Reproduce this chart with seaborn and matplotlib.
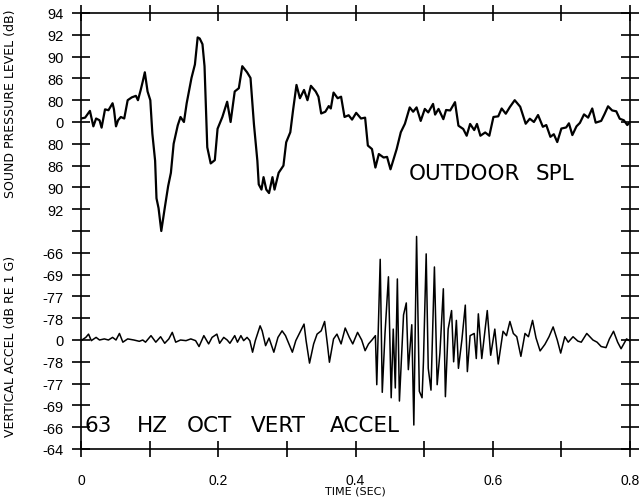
import numpy as np
import pandas as pd
import matplotlib
matplotlib.use("Agg")
import matplotlib.pyplot as plt
import seaborn as sns

# ---- data (levels in scale divisions; 0 = centre line of each trace) ----
spl_time = [0.000, 0.006, 0.013, 0.018, 0.022, 0.027, 0.030, 0.035, 0.040, 0.046,
            0.048, 0.051, 0.054, 0.058, 0.063, 0.068, 0.074, 0.080, 0.083, 0.087,
            0.090, 0.093, 0.097, 0.101, 0.104, 0.108, 0.110, 0.113, 0.117, 0.122,
            0.127, 0.131, 0.135, 0.141, 0.145, 0.150, 0.154, 0.161, 0.166, 0.170,
            0.173, 0.177, 0.180, 0.184, 0.189, 0.195, 0.199, 0.206, 0.213, 0.218,
            0.224, 0.230, 0.235, 0.242, 0.247, 0.252, 0.257, 0.259, 0.263, 0.266,
            0.270, 0.274, 0.279, 0.282, 0.288, 0.295, 0.299, 0.305, 0.309, 0.314,
            0.319, 0.325, 0.330, 0.335, 0.342, 0.346, 0.350, 0.356, 0.361, 0.364,
            0.368, 0.374, 0.379, 0.384, 0.390, 0.395, 0.401, 0.408, 0.414, 0.418,
            0.424, 0.429, 0.434, 0.441, 0.446, 0.451, 0.460, 0.466, 0.472, 0.479,
            0.484, 0.489, 0.495, 0.501, 0.506, 0.513, 0.516, 0.521, 0.528, 0.532,
            0.538, 0.545, 0.550, 0.557, 0.562, 0.567, 0.573, 0.577, 0.582, 0.589,
            0.595, 0.601, 0.608, 0.613, 0.619, 0.625, 0.632, 0.640, 0.648, 0.654,
            0.660, 0.666, 0.673, 0.678, 0.684, 0.689, 0.694, 0.700, 0.707, 0.711,
            0.716, 0.722, 0.727, 0.733, 0.739, 0.745, 0.750, 0.758, 0.763, 0.768,
            0.774, 0.780, 0.785, 0.791, 0.796, 0.800]
spl_level = [0.16, 0.20, 0.51, -0.20, 0.16, 0.08, -0.26, 0.58, 0.54, 0.86,
             0.58, -0.20, 0.08, 0.23, 0.16, 1.00, 1.13, 1.20, 1.00, 1.47,
             1.86, 2.28, 1.40, 1.00, -0.54, -1.78, -3.50, -3.95, -5.00, -3.95,
             -2.94, -2.33, -1.00, -0.15, 0.23, 0.00, 0.86, 2.02, 2.64, 3.88,
             3.83, 3.57, 2.56, -1.16, -1.90, -1.75, -0.31, 0.23, 0.93, 0.00,
             1.40, 1.55, 2.56, 2.28, 2.02, -0.10, -1.78, -2.86, -3.10, -2.53,
             -3.10, -3.26, -2.53, -3.10, -2.33, -2.00, -0.93, -0.47, 0.54, 1.70,
             1.09, 1.47, 1.00, 1.66, 1.40, 1.16, 0.39, 0.47, 0.73, 0.62,
             1.35, 1.09, 1.16, 0.23, 0.31, 0.11, 0.42, 0.16, 0.20, -1.08,
             -1.24, -2.09, -1.47, -1.63, -1.60, -2.17, -1.24, -0.47, -0.08, 0.67,
             0.47, 0.67, 0.05, 0.60, 0.44, 0.83, 0.34, 0.60, 0.13, 0.55,
             0.53, 0.91, -0.17, -0.32, -0.63, -0.09, -0.37, -0.09, -0.63, -0.48,
             -0.63, 0.23, 0.26, 0.62, 0.38, 0.69, 1.00, 0.70, -0.08, 0.15,
             0.00, 0.32, -0.22, -0.14, -0.68, -0.56, -0.92, -0.30, -0.25, -0.06,
             -0.60, -0.20, -0.04, 0.35, 0.20, 0.62, -0.03, 0.05, 0.37, 0.72,
             0.53, 0.49, 0.15, 0.08, -0.14, 0.00]

acc_time = [0.000, 0.007, 0.011, 0.015, 0.022, 0.027, 0.034, 0.040, 0.046, 0.051,
            0.056, 0.061, 0.068, 0.077, 0.085, 0.090, 0.094, 0.102, 0.109, 0.116,
            0.122, 0.128, 0.133, 0.138, 0.145, 0.153, 0.160, 0.167, 0.172, 0.179,
            0.186, 0.191, 0.198, 0.202, 0.208, 0.213, 0.217, 0.224, 0.228, 0.233,
            0.237, 0.242, 0.246, 0.250, 0.254, 0.261, 0.264, 0.269, 0.274, 0.281,
            0.287, 0.293, 0.298, 0.303, 0.308, 0.313, 0.320, 0.325, 0.328, 0.333,
            0.339, 0.344, 0.350, 0.355, 0.359, 0.362, 0.368, 0.373, 0.379, 0.385,
            0.391, 0.396, 0.403, 0.409, 0.414, 0.419, 0.424, 0.429, 0.431, 0.436,
            0.439, 0.443, 0.448, 0.452, 0.455, 0.458, 0.461, 0.464, 0.470, 0.474,
            0.477, 0.482, 0.485, 0.489, 0.493, 0.497, 0.499, 0.503, 0.506, 0.510,
            0.515, 0.519, 0.523, 0.528, 0.531, 0.535, 0.540, 0.543, 0.547, 0.550,
            0.555, 0.560, 0.563, 0.567, 0.573, 0.576, 0.579, 0.584, 0.592, 0.597,
            0.603, 0.608, 0.615, 0.620, 0.625, 0.630, 0.635, 0.641, 0.647, 0.652,
            0.658, 0.663, 0.669, 0.676, 0.682, 0.688, 0.694, 0.699, 0.705, 0.710,
            0.717, 0.724, 0.729, 0.737, 0.746, 0.752, 0.758, 0.765, 0.770, 0.776,
            0.782, 0.787, 0.795, 0.800]
acc_level = [-0.03, 0.12, 0.27, -0.03, 0.12, 0.00, 0.05, 0.00, 0.12, 0.00,
             0.30, -0.10, 0.05, 0.00, -0.06, 0.00, -0.10, 0.20, -0.10, 0.15,
             -0.15, 0.05, 0.35, -0.10, 0.00, -0.03, 0.05, -0.03, -0.30, 0.20,
             -0.18, 0.12, 0.27, -0.15, 0.12, 0.00, -0.15, 0.20, -0.10, 0.20,
             -0.03, 0.12, -0.03, -0.56, -0.03, 0.65, 0.42, -0.26, 0.09, -0.56,
             0.12, 0.42, 0.20, -0.18, -0.56, -0.03, 0.42, 0.73, -0.03, -1.06,
             -0.18, 0.27, 0.42, 0.85, -0.18, -1.02, 0.05, 0.27, -0.18, 0.55,
             0.12, -0.18, 0.35, 0.00, -0.49, -0.18, 0.00, 0.20, -2.05, 3.70,
             -2.40, 0.30, 2.90, -2.65, 0.50, -2.20, 2.80, -2.80, 1.15, 1.70,
             -1.36, 0.70, -3.90, 4.75, -2.35, -2.65, -1.00, 3.95, -1.30, -2.30,
             3.35, -2.05, -0.60, 2.35, -2.60, 0.50, 1.35, -1.00, 0.90, -1.30,
             0.00, 1.60, -1.45, 0.20, 0.30, -0.85, 1.20, -0.85, 1.35, -0.70,
             0.50, -1.10, 0.40, 0.20, 0.85, 0.30, 0.15, -0.75, 0.30, 0.15,
             0.90, 0.10, -0.50, -0.20, 0.15, 0.60, 0.00, -0.60, 0.15, -0.10,
             0.15, -0.05, -0.10, 0.30, 0.00, -0.10, -0.30, -0.35, 0.05, 0.40,
             -0.10, -0.40, 0.05, -0.05]

x_ticks = [0.0, 0.1, 0.2, 0.3, 0.4, 0.5, 0.6, 0.7, 0.8]
x_tick_labels = ["0", "", "0.2", "", "0.4", "", "0.6", "", "0.8"]
y_tick_labels = ["94", "92", "90", "86", "80", "0", "80", "86", "90", "92", "",
                 "-66", "-69", "-77", "-78", "0", "-78", "-77", "-69", "-66", "-64"]
spl_words = ["OUTDOOR", "SPL"]
acc_words = ["63", "HZ", "OCT", "VERT", "ACCEL"]

sns.set_style("ticks")
plt.rcParams['font.family'] = ['DejaVu Sans']

fig = plt.figure(figsize=(6.44, 5.02), dpi=100)
ax = fig.add_axes([81 / 644, 1 - 450 / 502, 549 / 644, 436 / 502])

spl_df = pd.DataFrame({"t": spl_time, "y": np.array(spl_level) + 5})
acc_df = pd.DataFrame({"t": acc_time, "y": np.array(acc_level) - 5})
sns.lineplot(data=spl_df, x="t", y="y", color="black", lw=1.6, estimator=None,
             sort=False, ax=ax)
sns.lineplot(data=acc_df, x="t", y="y", color="black", lw=1.1, estimator=None,
             sort=False, ax=ax)

ax.set_xlim(0, 0.8)
ax.set_ylim(-10, 10)
ax.set_xlabel("")
ax.set_ylabel("")
ax.set_xticks(x_ticks)
ax.set_xticklabels(x_tick_labels)
ax.set_yticks(np.arange(10, -11, -1))
ax.set_yticklabels(y_tick_labels)
ax.set_yticks([0], minor=True)
for s in ax.spines.values():
    s.set_visible(True)
    s.set_linewidth(1.2)
    s.set_color("black")

tick_font = ['Liberation Sans', 'DejaVu Sans']
ax.tick_params(axis='y', which='major', direction='inout', length=13, width=1.2,
               left=True, right=True, labelsize=10.5, pad=6, colors='black')
ax.tick_params(axis='y', which='minor', direction='in', length=12, width=1.2,
               left=True, right=True)
ax.tick_params(axis='x', which='major', direction='inout', length=11, width=1.2,
               top=True, bottom=True, labelsize=10, pad=12, colors='black')
for lab in ax.get_yticklabels() + ax.get_xticklabels():
    lab.set_family(tick_font)

# in-plot annotations, word by word (the plotter lettering is widely spaced)
spl_word_x = [409, 536]
for w, px in zip(spl_words, spl_word_x):
    ax.text((px - 81) / 549, 0.632, w, transform=ax.transAxes, fontsize=15.5,
            ha='left', va='center', color='black')
acc_word_x = [85, 137, 187, 251, 330]
for w, px in zip(acc_words, acc_word_x):
    ax.text((px - 81) / 549, 0.055, w, transform=ax.transAxes, fontsize=15.5,
            ha='left', va='center', color='black')

fig.text(355 / 644, 1 - 492 / 502, "TIME (SEC)", fontsize=8, ha='center',
         va='center', color='black')
fig.text(11 / 644, 1 - 104 / 502, "SOUND PRESSURE LEVEL (dB)", fontsize=9,
         rotation=90, ha='center', va='center', color='black')
fig.text(11 / 644, 1 - 346 / 502, "VERTICAL ACCEL (dB RE 1 G)", fontsize=9,
         rotation=90, ha='center', va='center', color='black')

fig.savefig("out.png", dpi=100)
